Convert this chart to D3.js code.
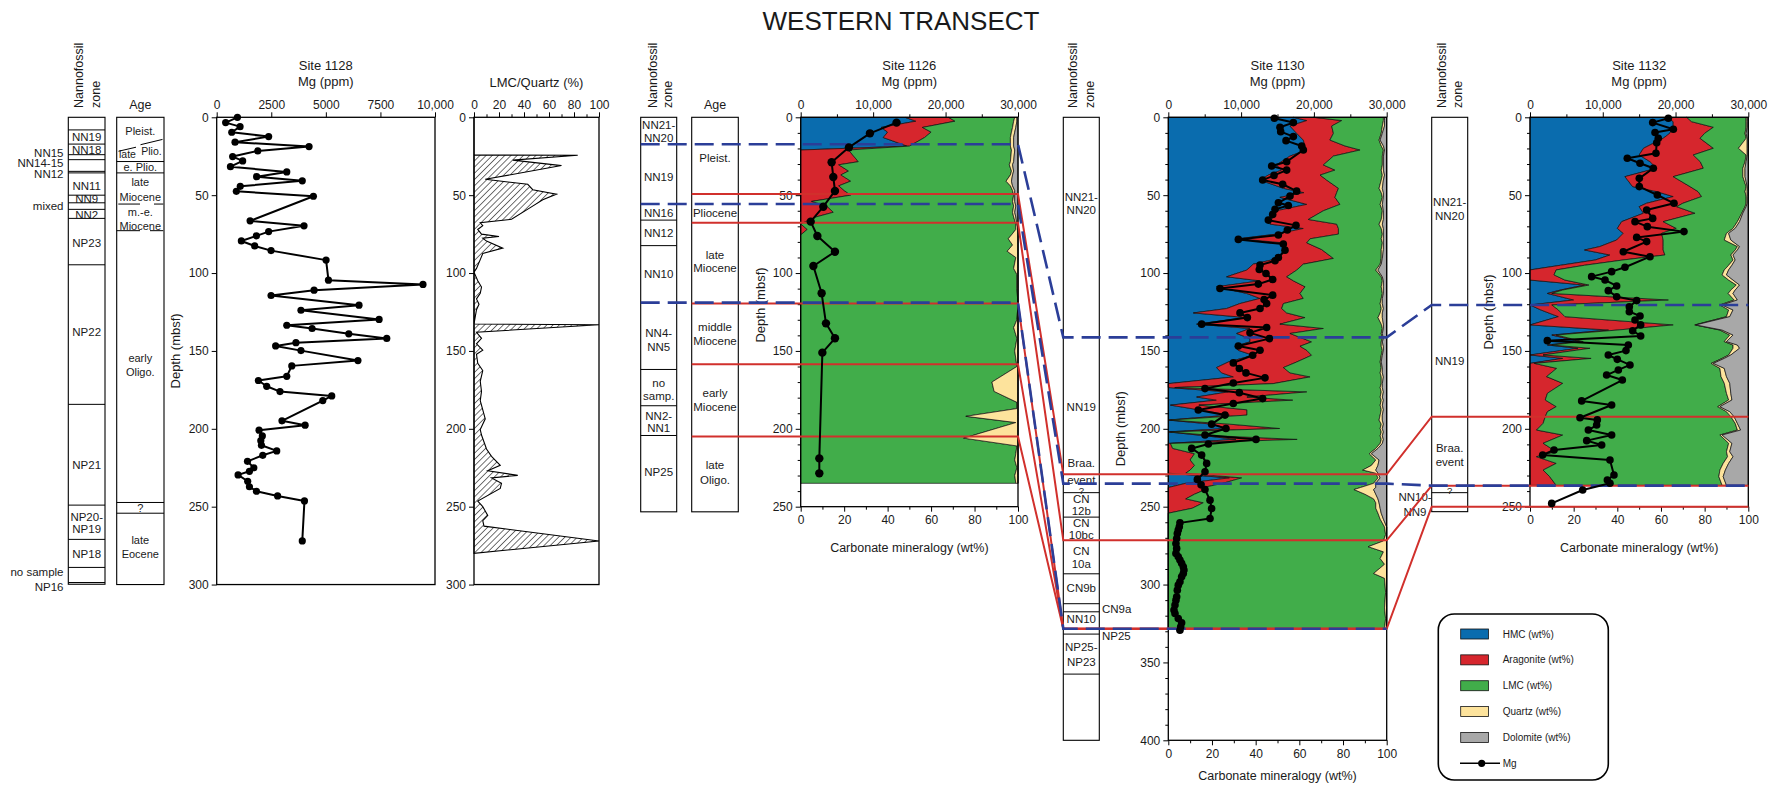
<!DOCTYPE html>
<html>
<head>
<meta charset="utf-8">
<script src="https://cdn.jsdelivr.net/npm/d3@7"></script>
<style>
  body { margin: 0; background: #fff; }
  svg { display: block; }
</style>
</head>
<body>
<svg id="chart" width="1777" height="785"></svg>
<script>
// ---------------- Site 1128: Mg (ppm) ----------------
const mg1128Depth = [0,3.4,6,9.6,12.4,16,18.8,21.6,25.2,28, 31.7,35.1,38.1,40.8,44.3,47.5,50.7,66.5,69.7,73.4,
  76.1,79.4,82.6,85.6,91.7,104.6,107.3,111,114.4,120.6, 123.9,129.8,133.5,135.6,139,142,144.7,146.8,149.8,156.2,
  159.6,166.3,169,172.7,176.1,178.9,181.9,194.9,197.7,200.9, 204.6,207.6,210.6,214.2,217,220.9,225,227.3,229.6,233.7,
  237.2,240.1,243.1,246.3,272];
const mg1128 = [950,410,1070,690,2380,840,4230,1880,730,1190, 630,3210,1830,3920,1080,900,4430,1530,4000,2380,
  1820,1130,1740,2490,5010,5120,9450,4460,2490,6520, 3860,7440,3210,4370,6050,7790,3630,2700,3860,6470,
  3440,3210,1910,2290,2900,5270,4860,2990,4050,1940, 2090,2020,2050,2750,2110,1410,1700,1500,980,1420,
  1500,1820,2790,4020,3920];

// ---------------- Site 1128: LMC/Quartz (%) ----------------
const lqDepth = [0,24.2,24.4,27.5,31,39.8,43,46.5,49.3,53, 58,65.5,67.7,69.6,72,75,76.5,77.6,79.5,84,
  87.5,91.4,97,99.4,105,109,113,116.6,120,123.5, 132.7,133.2,138,141.9,145.4,149.5,152.2,158,162.6,169.5,
  176,182,193.6,200.5,204,213,217.7,223.4,226.9,229.9, 231.5,235,238.3,246.4,250,255.6,259,262.5,272,280];
const lqValue = [0,0,83,31,70,9,43,47,66,55, 45,30,5,7,3,6,20,7,10,23,
  7,5,2,0,3,6,5,2,4,2, 0,100,2,6,2,7,2,3,7,5,
  6,5,9,5,6,10,14,21,11,35, 14,22,21,3,7,11,7,8,100,0];

// ---------------- Site 1126: carbonate mineralogy (wt%) and Mg ----------------
const depth1126 = [0,2.5,6.5,9.5,13,18.5,21,28.5,30.5,34.5, 37,41,44,47,50,54,57,61,64,68.5,
  72,75.5,78,82,86,90,97,101,110,120, 130,135,142,150,160,170,176,183,187,192, 196,206,211,216,220,225,230,235];
const hmc1126 = [48,53,37,40,38,49,0,0,0,0, 0,0,0,0,0,0,0,0,0,0, 0,0,0,0,0,0,0,0,0,0, 0,0,0,0,0,0,0,0,0,0, 0,0,0,0,0,0,0,0];
const arag1126 = [20,18,19,20,19,1,22,26.5,17.5,22, 18.5,23,17.5,20,23,5,12,15,7,0, 3,0,0,0,0,0,0,0,0,0, 0,0,0,0,0,0,0,0,0,0, 0,0,0,0,0,0,0,0];
const lmc1126 = [30.5,27,41.5,37,39.5,46.5,75,70,78.5,75, 78,71.5,79,77.5,75,92.5,86,82.5,91,99,
  96,97,95.5,97.5,95,99,98,99.5,99.5,100, 99.5,98,99.5,98.5,99.5,88,89,99.5,99.5,76, 99,75,99.5,99,98.5,99.5,98.5,99];
const qtz1126 = [1,1.5,1.5,1.5,1.5,1.5,1.5,1.5,1.5,1, 1,2.5,1,1,0.5,1,1,1,1,0.5,
  1,3,4.5,2.5,5,1,2,0.5,0.5,0, 0.5,2,0.5,1.5,0.5,12,11,0.5,0.5,24, 1,25,0.5,1,1.5,0.5,1.5,1];
const dol1126 = [0.5,0.5,1,1.5,2,2,1.5,2,2.5,2, 2.5,3,2.5,1.5,1.5,1.5,1,1.5,1,0.5,
  0,0,0,0,0,0,0,0,0,0, 0,0,0,0,0,0,0,0,0,0, 0,0,0,0,0,0,0,0];
const mg1126Depth = [3.4,10.3,19.3,28.9,38.3,47.3,57.4,67,76.2,86.3,95.5,113,132.3,141.9,151.1,219,228.6];
const mg1126 = [13230,9560,6660,4270,4500,4730,3120,1380,2300,4730,1750,2890,3490,4730,2990,2570,2570];

// ---------------- Site 1130 ----------------
const depth1130 = [0,2.1,5.6,10.3,14.6,18.4,21,24.9,30.6,33.9, 37.1,40.3,45.6,48.4,51.4,55.9,60,65.6,68.6,71.4,
  75,78,80.6,84.9,90.6,94.3,98.1,102.4,105,108.8, 113.1,116.3,119.6,122.8,125.6,128.6,132.8,135.6,138.8,142.1,
  144.2,147,149.6,152.8,157.1,160.7,164.1,166.7,171,173.5, 176.3,179.6,181.6,184.8,187.8,191.2,194.4,197,199.8,202,
  204.5,206.8,209.4,212.6,216,220,223.5,226.5,228.5,231.5, 235,237.7,239,242,245,247.5,251,254.2,258,263,
  268,272,275.7,279,283.3,287,292.9,296,305,315, 322,328.4];
const hmc1130 = [57.3,63.4,55.7,58.8,61.8,62.6,63.4,55.7,49.6,51.9, 45.8,42,52.7,62.1,51.1,63.4,49.6,47.3,46.6,61.8,
  49.6,32,52.7,54.2,50.4,38.9,35.9,26.7,42,22.1, 35.9,42,32.8,26.7,11.5,35.9,13,37.4,31.3,37.4,
  37.4,30.5,32,38.9,27.5,22.1,24.4,29.8,0,0, 27.5,13,22,1,14,28,0,20,27,0,
  17,31,0,0,0,0,0,0,0,28, 8,0,0,0,0,0,0,0,0,0, 0,0,0,0,0,0,0,0,0,0, 0,0];
const arag1130 = [9.1,16,19.1,16.8,12.2,18.3,24.4,19.9,21.4,24.4, 23.7,30.5,25.2,15,25.2,15.2,21.4,16.8,30.5,16.1,
  28.3,32.9,10.7,16,25.2,22.9,22.9,27.5,15.3,40.5, 24.4,19.8,19.9,25.2,42.7,26.7,38.1,33.6,24.4,24.4,
  28.2,29.8,31.4,26.7,31.3,30.6,31.3,35.1,48,3, 35.9,23,35,13,22,8,1,8,24,1,
  5,28,1,2,12,10,12,10,8,5.6, 17,16,17,12,8,16,11,0,0,0, 0,0,0,0,0,0,0,0,0,0, 0,0];
const lmc1130 = [32.1,19.1,23.2,21.9,22.5,16.6,10.7,22.4,27,21.2, 28.5,25,18.6,20.4,21.7,18.4,27,33.4,19.4,19.6,
  20.1,32.6,34.6,27.3,21.9,35.2,36.2,43.3,40.7,34.9, 37.7,35.7,44.3,45.6,42.8,33.4,46.4,27,41.8,36.2,
  31.9,37.2,34.6,31.9,38.2,44.8,41.3,32.6,49.5,94, 34.1,61,40.5,83,61.5,61,95.5,69.5,46,96.5,
  75,38.5,96,93,80,85,81,79,87,62.4, 69,72,68,78,86,79,84,96,97,99,
  99.5,98.5,91.5,98.5,97,99,94,99,99.5,99, 99.5,99];
const qtz1130 = [0.5,0.5,1,0.5,0.5,1,0.5,0.5,0.5,1, 1,1,1.5,1,0.5,1,0.5,1,1.5,1,
  0.5,1,0.5,1,0.5,0.5,1,0.5,0.5,1, 0.5,0.5,1,1,1,2,1,0.5,0.5,0.5,
  0.5,1,0.5,0.5,0.5,0.5,1,1,0.5,1, 1,1,1,1,1,1,1.5,1,1,1,
  1,1,1,1,1,1.5,3,6,1,1, 1,7,9,5,2,1.5,2,1.5,1.5,1,
  0.5,1.5,8.5,1.5,3,1,6,1,0.5,1, 0.5,1];
const dol1130 = [1,1,1,2,3,1.5,1,1.5,1.5,1.5, 1,1.5,2,1.5,1.5,2,1.5,1.5,2,1.5,
  1.5,1.5,1.5,1.5,2,2.5,4,2,1.5,1.5, 1.5,2,2,1.5,2,2,1.5,1.5,2,1.5,
  2,1.5,1.5,2,2.5,2,2,1.5,2,2, 1.5,2,1.5,2,1.5,2,2,1.5,2,1.5,
  2,1.5,2,4,7,3.5,4,5,4,3, 5,5,6,5,4,3.5,3,2.5,1.5,0,
  0,0,0,0,0,0,0,0,0,0, 0,0];
const mg1130Depth = [0.6,3.4,6.4,9.2,12.4,15,18.4,21,28.5,31.3, 33.9,37.3,40.3,43,47.4,50.6,54.9,56.6,59.1,62.4,
  66,69.4,72.4,75.6,78.4,81.4,85.3,90,92.1,94.9, 97.7,100.3,104.1,107.1,109.9,114.2,117,119.6,122.8,125.6,
  128.6,132.8,135,138.4,142.1,146.8,149.6,152.8,157.7,161.3, 164.1,167.3,170.6,174.2,176.8,180.6,183.8,187.9,191.2,197,
  199.8,204,206.8,209.8,212.6,216.9,222.2,227.6,232.5,236, 239,245.8,251.2,257.6,260.4,262.9,265,267.2,270.4,273.6,
  276.8,280,282.2,284.3,286.4,288.6,290.7,292.9,295,298.2, 300.4,303.6,307.9,310,313.2,316.4,318.6,321.8,324.6,327.1,
  329.3];
const mg1130 = [14570,17180,15340,15440,17180,16170,18320,18550,16260,14200, 16260,14520,12960,15710,17630,16720,15120,16490,14660,14340,
  13740,17540,16350,15120,9620,15800,16030,15120,14660,12600, 12500,13420,14340,12370,7100,14340,13150,13510,12600,9850,
  10860,4580,13510,11220,13880,9620,12600,11590,8930,9760, 10670,13280,8930,5040,9760,12960,8930,4120,7790,5950,
  7920,5040,12050,5500,3210,4580,5270,5040,3990,4500, 5040,5730,5950,5730,1600,1510,1370,1240,1150,1050,
  1150,1050,1370,1600,1830,2060,2150,2060,1830,1600, 1370,1240,1150,1050,920,780,920,1370,1830,1700,
  1600];

// ---------------- Site 1132 ----------------
const depth1132 = [0,2.8,6.4,10.3,13.5,19.9,24.2,28.5,32.7,38.1, 44.5,47.7,50.9,55.2,57.4,61.6,67,71.3,74.5,78.8,
  83,85.2,88.4,91.6,95,98,101.2,104.5,107.7,110.9, 113.1,117.3,120.5,123.7,128,133.3,136.6,139.8,144,146.2,
  148.3,152.6,154.8,158,161.2,166.5,170.8,177.2,181.5,185.8, 189,192.2,196.5,200.8,204,209.3,214.7,217.9,222.2,226.5,
  230.7,236.3];
const hmc1132 = [62.6,65.6,65.6,64,61,52,50,55,58,43.5, 47,58,65.6,53.4,50,52,42,40,42.7,39.7,
  32,25,36.6,30,14,0,0,0,25,14, 8,20,0,5,13,0,36,10,23,8,
  22,0,15,0,0,0,0,0,0,0, 0,0,0,0,0,0,0,0,0,0, 0,0];
const arag1132 = [9.2,8.4,18.4,16,16.9,32,24.8,23,21.4,22.1, 26.3,19,13,16.6,17.2,23.6,19,27,17.6,21.3,
  29,36,25.2,12.7,11,12,11,16,2,1, 2,43.4,10,8,3,65.6,4,2,1.4,2,
  5.5,6,13,2,12.2,7.6,15,8,7,12, 8,7,6,3,15,6,12,3,12,6, 9,12];
const lmc1132 = [27.2,25,15,18.5,21.1,11.5,24.2,20.5,18.1,31.9, 25.7,21.5,20.4,29,31.3,21.4,34,26,29.7,28,
  34,33,30.2,50.3,66,77,77,75,67.5,77, 80.8,30.1,77,78,74,9.9,47,79.5,64.6,83,
  65.5,85,60,81,74.8,79.9,74,82,84,74, 82,85,88,92,72,85,78,87.5,76.5,81, 77.5,76];
const qtz1132 = [0.5,0.5,0.5,0.5,0.5,4,0.5,0.5,1,1, 0.5,1,0.5,0.5,0.5,0.5,1,1,1,3,
  1,1,1,1,1.5,2,2,2,1.5,2, 2.2,1.5,1,2,1.5,0.5,1,1.5,1,2,
  3,1,1,1,2,2.5,2.5,2,1.5,1, 1.5,1.5,1,1.5,1,1.5,1.5,2.5,2.5,2.5, 2,2];
const dol1132 = [0.5,0.5,0.5,1,0.5,0.5,0.5,1,1.5,1.5, 0.5,0.5,0.5,0.5,1,2.5,4,6,9,8,
  4,5,7,6,7.5,9,10,7,4,6, 7,5,12,7,8.5,24,12,7,10,5,
  4,8,11,16,11,10,8.5,8,7.5,13, 8.5,6.5,5,3.5,12,7.5,8.5,7,9,10.5, 11.5,10];
const mg1132Depth = [0.6,3.4,7.7,9.8,13.5,16.3,23.1,26.3,29.5,32.7, 39.2,44.5,49.9,55.2,59.5,64.9,67,70.2,73.4,77.1,
  79.8,86.3,89.5,96.3,99.1,102.3,104.5,108.3,111.3,115.2, 117.7,121.6,124.8,127.6,130.1,133.3,137,140.4,143.4,146.2,
  149.8,152.6,155.4,159,162.2,165.5,168.7,182.1,184.7,192.9, 194.3,197.6,200.8,204,207.6,210.4,213.6,216.8,220,229.7,
  232.9,235,239.3,247.9];
const mg1132 = [19010,16860,19700,17180,17630,17410,17310,13370,15120,16950, 15020,15020,17500,19790,16030,16860,14430,16120,21160,14660,
  16030,12820,16490,13050,11220,8470,10310,11910,10760,11910, 14660,13650,13650,15120,14430,15210,14110,15210,2380,13510,
  13190,10760,12000,13740,12140,10530,12690,7100,11220,6870, 9250,9160,8020,11220,7790,9850,3300,1740,10990,11540,
  10630,10990,7240,2980];

// ---------------- Zonation (depths in mbsf) ----------------
const zone1128Bounds = [8.1,17.2,24,27.2,34.7,35.7,50,54.9,59.1,64.9,94.7,184.3,249,271,289,298.7];
const zone1128Labels = [["NN19",12.5],["NN18",21],["NN11",43.9],["NN9",52.5],["NN2",62.7],["NP23",80.5],
  ["NP22",137.9],["NP21",223.2],["NP20-",256.4],["NP19",264.3],["NP18",280.6]];
const zone1128Side = [["NN15",23.1],["NN14-15",29.5],["NN12",36.4],["mixed",57],["no sample",292.1],["NP16",301.4]];
const age1128Bounds = [35.7,247.3,254.2];
const age1128Labels = [["Pleist.",8.8],["e. Plio.",32.1],["late",41.3],["Miocene",51],["m.-e.",60.6],["Miocene",69.6],
  ["early",154.5],["Oligo.",163.3],["?",250.6],["late",271.6],["Eocene",280.6]];

const zone1126Bounds = [66,82.4,161.9,185.2,204.3];
const zone1126Labels = [["NN21-",4.9],["NN20",13.5],["NN19",38.1],["NN16",61.3],["NN12",74.1],["NN10",100.6],
  ["NN4-",138.7],["NN5",147.3],["no",170.4],["samp.",178.9],["NN2-",191.8],["NN1",199.7],["NP25",227.5]];
const age1126Labels = [["Pleist.",26.3],["Pliocene",61.3],["late",88.4],["Miocene",97],["middle",134.8],["Miocene",143.4],
  ["early",176.8],["Miocene",185.8],["late",223.2],["Oligo.",232.8]];

const zone1130Bounds = [241,256.7,293.1,312.3,317.5,331.8,357.5];
const zone1130Labels = [["NN21-",51.2],["NN20",59.8],["NN19",186],["Braa.",222],["event",232.7],
  ["CN",245.1],["12b",252.8],["CN",260.8],["10bc",267.9],["CN",278.5],["10a",287.1],["CN9b",302.2],
  ["NN10",322.4],["NP25-",340.1],["NP23",349.5]];
const zone1130Side = [["CN9a",315.7],["NP25",333]];

const zone1132Bounds = [241];
const zone1132Labels = [["NN21-",54.6],["NN20",63.2],["NN19",156.3],["Braa.",212.5],["event",221.5]];
const zone1132Side = [["NN10-",244],["NN9",253.2]];

// correlation ties: depth at 1126 -> 1130 -> 1132
const tieRed = [[49.3,229.2,192.2],[67.7,271.6,236.5],[119.5,328.4,250],[158.5,328.4,null],[205,328.4,null]];
const tieBlue = [[17.3,141.3,120.5],[55.7,235.2,236.5],[119,328.4,null]];

const mineralNames = ["HMC (wt%)","Aragonite (wt%)","LMC (wt%)","Quartz (wt%)","Dolomite (wt%)"];

// ---------------- drawing ----------------
const FONT = "'Liberation Sans', Arial, Helvetica, sans-serif";
const svg = d3.select("#chart").attr("font-family", FONT);
const yD = d3.scaleLinear().domain([0, 400]).range([117.3, 740.3]);
const keys = ["hmc","arag","lmc","qtz","dol"];
const fillOf = {hmc:"#0a6cae", arag:"#d6262d", lmc:"#41ad4a", qtz:"#fde39c", dol:"#a8a8a8"};
const RED = "#d1302c", BLUE = "#2b3e98";

const P = {
  s1128: {x0:216.7, x1:435, dMax:300},
  lq:    {x0:474,   x1:599, dMax:300},
  s1126: {x0:800.7, x1:1018, dMax:250},
  s1130: {x0:1168.3,x1:1386.7, dMax:400},
  s1132: {x0:1530,  x1:1748.3, dMax:250}
};
const COL = {
  nn1128:[68.3,105], age1128:[116.7,164], nn1126:[640.7,676.7], age1126:[691.7,738.3],
  nn1130:[1063.3,1099.3], nn1132:[1431.7,1467.7]
};

function text(x, y, s, size, anchor) {
  return svg.append("text").attr("x", x).attr("y", y).text(s)
    .attr("font-size", size).attr("text-anchor", anchor || "middle").attr("fill", "#1a1a1a");
}
function vtext(x, y, s, size, anchor) {
  return svg.append("text").attr("transform", `translate(${x},${y}) rotate(-90)`).text(s)
    .attr("font-size", size).attr("text-anchor", anchor || "middle").attr("fill", "#1a1a1a");
}
function styleAxis(g) {
  g.attr("font-family", FONT).attr("font-size", 12);
  g.select(".domain").remove();
  g.selectAll("text").attr("fill", "#1a1a1a");
  g.selectAll("line").attr("stroke", "#000");
}

// title
text(901, 30, "WESTERN TRANSECT", 26);

// ---- lithostratigraphic columns ----
function column(c, dBottom) {
  svg.append("rect").attr("x", c[0]).attr("y", yD(0)).attr("width", c[1]-c[0])
    .attr("height", yD(dBottom)-yD(0)).attr("fill", "#fff").attr("stroke", "#000").attr("stroke-width", 1.1);
}
function colLines(c, bounds) {
  svg.append("g").selectAll("line").data(bounds).join("line")
    .attr("x1", c[0]).attr("x2", c[1]).attr("y1", d => yD(d)).attr("y2", d => yD(d))
    .attr("stroke", "#000").attr("stroke-width", 1);
}
function colLabels(xc, labels, anchor, size) {
  labels.forEach(([s, d]) => text(xc, yD(d) + 4, s, size || 11.5, anchor));
}
function colHeader(xa, xb) {
  vtext(xa, 108, "Nannofossil", 12.5, "start");
  vtext(xb, 108, "zone", 12.5, "start");
}

// Site 1128 columns
column(COL.nn1128, 299.8);
colLines(COL.nn1128, zone1128Bounds);
colLabels(86.7, zone1128Labels);
colLabels(63.5, zone1128Side, "end");
column(COL.age1128, 300);
colLines(COL.age1128, age1128Bounds);
colLabels(140.3, age1128Labels, "middle", 11);
text(127.5, yD(23.6) + 4, "late", 10.5);
text(151.5, yD(21.6) + 4, "Plio.", 10.5);
// broken boundaries drawn around the age names
const ageSeg = [
  [118.5, yD(21.8), 136, yD(19.2)], [140.5, yD(17.6), 162.5, yD(14.2)],
  [116.7, yD(28.4), 164, yD(28.4)],
  [118.3, yD(55.7), 140, yD(55.7)], [154, yD(55.7), 163.3, yD(55.7)],
  [116.7, yD(72.8), 140, yD(72.8)], [150, yD(72.8), 163.3, yD(72.8)]
];
svg.append("g").selectAll("line").data(ageSeg).join("line")
  .attr("x1", d => d[0]).attr("y1", d => d[1]).attr("x2", d => d[2]).attr("y2", d => d[3])
  .attr("stroke", "#000").attr("stroke-width", 1);
colHeader(83, 99.5);
text(140.3, 108.5, "Age", 12.5);

// Site 1126 columns
column(COL.nn1126, 253.3);
colLines(COL.nn1126, zone1126Bounds);
colLabels(658.7, zone1126Labels);
column(COL.age1126, 253.3);
colLabels(715, age1126Labels);
colHeader(657, 672);
text(715, 109, "Age", 12.5);

// Site 1130 column
column(COL.nn1130, 400);
colLines(COL.nn1130, zone1130Bounds);
colLabels(1081.3, zone1130Labels);
text(1081.3, yD(239.6) + 3.5, "?", 9.5);
colLabels(1102, zone1130Side, "start");
colHeader(1076.5, 1093.5);

// Site 1132 column
column(COL.nn1132, 253.2);
colLines(COL.nn1132, zone1132Bounds);
colLabels(1449.7, zone1132Labels);
text(1449.7, yD(239.4) + 3.5, "?", 9.5);
colLabels(1415, zone1132Side);
colHeader(1446, 1462);

// ---- plot frames and axes ----
function frame(p) {
  svg.append("rect").attr("x", p.x0).attr("y", yD(0)).attr("width", p.x1-p.x0)
    .attr("height", yD(p.dMax)-yD(0)).attr("fill", "none").attr("stroke", "#000").attr("stroke-width", 1.3);
}
function depthAxis(p, minor) {
  const ys = d3.scaleLinear().domain([0, p.dMax]).range([yD(0), yD(p.dMax)]);
  const major = d3.range(0, p.dMax + 1, 50);
  const g = svg.append("g").attr("transform", `translate(${p.x0},0)`);
  g.call(d3.axisLeft(ys).tickValues(major).tickSize(5).tickPadding(3).tickSizeOuter(0));
  styleAxis(g);
  if (minor) {
    const gm = svg.append("g").attr("transform", `translate(${p.x0},0)`);
    gm.call(d3.axisLeft(ys).tickValues(d3.range(0, p.dMax + 1, 10).filter(v => v % 50)).tickSize(3).tickFormat("").tickSizeOuter(0));
    styleAxis(gm);
  }
}
function topAxis(p, max, major, minor, fmt) {
  const xs = d3.scaleLinear().domain([0, max]).range([p.x0, p.x1]);
  const g = svg.append("g").attr("transform", `translate(0,${yD(0)})`);
  g.call(d3.axisTop(xs).tickValues(major).tickSize(5).tickPadding(3).tickFormat(fmt).tickSizeOuter(0));
  styleAxis(g);
  if (minor) {
    const gm = svg.append("g").attr("transform", `translate(0,${yD(0)})`);
    gm.call(d3.axisTop(xs).tickValues(minor).tickSize(3).tickFormat("").tickSizeOuter(0));
    styleAxis(gm);
  }
}
function bottomAxis(p, titleGap) {
  const xs = d3.scaleLinear().domain([0, 100]).range([p.x0, p.x1]);
  const g = svg.append("g").attr("transform", `translate(0,${yD(p.dMax)})`);
  g.call(d3.axisBottom(xs).tickValues(d3.range(0, 101, 20)).tickSize(5).tickPadding(4).tickSizeOuter(0));
  styleAxis(g);
  const gm = svg.append("g").attr("transform", `translate(0,${yD(p.dMax)})`);
  gm.call(d3.axisBottom(xs).tickValues(d3.range(10, 100, 20)).tickSize(3).tickFormat("").tickSizeOuter(0));
  styleAxis(gm);
  text((p.x0 + p.x1) / 2, yD(p.dMax) + titleGap, "Carbonate mineralogy (wt%)", 12.5);
}
const fmtMg = d => d >= 10000 ? d3.format(",")(d) : String(d);
const mgMajor = [0, 10000, 20000, 30000], mgMinor = [5000, 15000, 25000];

// ---- stacked mineralogy ----
function stackPlot(p, depths, hmc, arag, lmc, qtz, dol) {
  const rows = depths.map((d, i) => ({depth: d, hmc: hmc[i], arag: arag[i], lmc: lmc[i], qtz: qtz[i], dol: dol[i]}));
  const xs = d3.scaleLinear().domain([0, 100]).range([p.x0, p.x1]);
  const series = d3.stack().keys(keys)(rows);
  const area = d3.area().y(d => yD(d.data.depth)).x0(d => xs(d[0])).x1(d => xs(d[1]));
  svg.append("g").selectAll("path").data(series).join("path")
    .attr("d", area).attr("fill", s => fillOf[s.key])
    .attr("stroke", "#111").attr("stroke-width", 0.7).attr("stroke-linejoin", "round");
}
function mgLine(p, max, depths, vals, r) {
  const xs = d3.scaleLinear().domain([0, max]).range([p.x0, p.x1]);
  const pts = depths.map((d, i) => [xs(vals[i]), yD(d)]);
  const g = svg.append("g");
  g.append("path").attr("d", d3.line()(pts)).attr("fill", "none").attr("stroke", "#000").attr("stroke-width", 2).attr("stroke-linejoin", "round");
  g.selectAll("circle").data(pts).join("circle").attr("cx", d => d[0]).attr("cy", d => d[1]).attr("r", r).attr("fill", "#000");
}

// Site 1128 Mg panel
frame(P.s1128);
depthAxis(P.s1128, false);
topAxis(P.s1128, 10000, [0, 2500, 5000, 7500, 10000], null, fmtMg);
text(325.8, 69.5, "Site 1128", 13);
text(325.8, 86, "Mg (ppm)", 13);
vtext(179.5, yD(150), "Depth (mbsf)", 13);

// LMC/Quartz panel
const defs = svg.append("defs");
const hatch = defs.append("pattern").attr("id", "hatch").attr("patternUnits", "userSpaceOnUse")
  .attr("width", 4.4).attr("height", 4.4).attr("patternTransform", "rotate(45)");
hatch.append("rect").attr("width", 4.4).attr("height", 4.4).attr("fill", "#fff");
hatch.append("line").attr("x1", 0).attr("y1", 0).attr("x2", 0).attr("y2", 4.4).attr("stroke", "#000").attr("stroke-width", 1.1);
{
  const xs = d3.scaleLinear().domain([0, 100]).range([P.lq.x0, P.lq.x1]);
  const area = d3.area().y(d => yD(d[0])).x0(xs(0)).x1(d => xs(d[1]));
  svg.append("path").datum(lqDepth.map((d, i) => [d, lqValue[i]]))
    .attr("d", area).attr("fill", "url(#hatch)").attr("stroke", "#000").attr("stroke-width", 1.1);
}
frame(P.lq);
depthAxis(P.lq, false);
topAxis(P.lq, 100, d3.range(0, 101, 20), d3.range(10, 100, 20), d => d);
text((P.lq.x0 + P.lq.x1) / 2, 87, "LMC/Quartz (%)", 13);
mgLine(P.s1128, 10000, mg1128Depth, mg1128, 3.6);

// Site 1126
stackPlot(P.s1126, depth1126, hmc1126, arag1126, lmc1126, qtz1126, dol1126);
frame(P.s1126);
depthAxis(P.s1126, true);
topAxis(P.s1126, 30000, mgMajor, mgMinor, fmtMg);
bottomAxis(P.s1126, 45);
text((P.s1126.x0 + P.s1126.x1) / 2, 69.5, "Site 1126", 13);
text((P.s1126.x0 + P.s1126.x1) / 2, 86, "Mg (ppm)", 13);
vtext(764.5, 305, "Depth (mbsf)", 13);

// Site 1130
stackPlot(P.s1130, depth1130, hmc1130, arag1130, lmc1130, qtz1130, dol1130);
frame(P.s1130);
depthAxis(P.s1130, true);
topAxis(P.s1130, 30000, mgMajor, mgMinor, fmtMg);
bottomAxis(P.s1130, 39.5);
text((P.s1130.x0 + P.s1130.x1) / 2, 69.5, "Site 1130", 13);
text((P.s1130.x0 + P.s1130.x1) / 2, 86, "Mg (ppm)", 13);
vtext(1124.5, yD(200), "Depth (mbsf)", 13);

// Site 1132
stackPlot(P.s1132, depth1132, hmc1132, arag1132, lmc1132, qtz1132, dol1132);
frame(P.s1132);
depthAxis(P.s1132, true);
topAxis(P.s1132, 30000, mgMajor, mgMinor, fmtMg);
bottomAxis(P.s1132, 45);
text((P.s1132.x0 + P.s1132.x1) / 2, 69.5, "Site 1132", 13);
text((P.s1132.x0 + P.s1132.x1) / 2, 86, "Mg (ppm)", 13);
vtext(1492.5, yD(125), "Depth (mbsf)", 13);

// ---- correlation ties between sites ----
function tiePath(startX, chain) {
  const pts = [[startX, yD(chain[0])], [P.s1126.x1, yD(chain[0])],
               [COL.nn1130[0], yD(chain[1])], [P.s1130.x1, yD(chain[1])]];
  if (chain[2] != null) pts.push([COL.nn1132[0], yD(chain[2])], [P.s1132.x1, yD(chain[2])]);
  return d3.line()(pts);
}
svg.append("g").selectAll("path").data(tieRed).join("path")
  .attr("d", c => tiePath(COL.age1126[0], c)).attr("fill", "none")
  .attr("stroke", RED).attr("stroke-width", 2);
svg.append("g").selectAll("path").data(tieBlue).join("path")
  .attr("d", c => tiePath(COL.nn1126[0], c)).attr("fill", "none")
  .attr("stroke", BLUE).attr("stroke-width", 2.6).attr("stroke-dasharray", "19,8");

// ---- Mg profiles ----
mgLine(P.s1126, 30000, mg1126Depth, mg1126, 4.2);
mgLine(P.s1130, 30000, mg1130Depth, mg1130, 3.8);
mgLine(P.s1132, 30000, mg1132Depth, mg1132, 3.8);

// ---- legend ----
const lg = svg.append("g");
lg.append("rect").attr("x", 1438.3).attr("y", 614).attr("width", 170).attr("height", 166).attr("rx", 16)
  .attr("fill", "#fff").attr("stroke", "#000").attr("stroke-width", 1.6);
const legY = d3.scalePoint().domain(mineralNames.concat(["Mg"])).range([634, 763.3]);
mineralNames.forEach((name, i) => {
  const y = legY(name);
  lg.append("rect").attr("x", 1460.7).attr("y", y - 5).attr("width", 27.7).attr("height", 10)
    .attr("fill", fillOf[keys[i]]).attr("stroke", "#111").attr("stroke-width", 0.8);
  lg.append("text").attr("x", 1502.7).attr("y", y + 3.6).text(name).attr("font-size", 10).attr("fill", "#1a1a1a");
});
{
  const y = legY("Mg");
  lg.append("line").attr("x1", 1460).attr("x2", 1500).attr("y1", y).attr("y2", y).attr("stroke", "#000").attr("stroke-width", 1.6);
  lg.append("circle").attr("cx", 1481.7).attr("cy", y).attr("r", 3.6).attr("fill", "#000");
  lg.append("text").attr("x", 1502.7).attr("y", y + 3.6).text("Mg").attr("font-size", 10).attr("fill", "#1a1a1a");
}
</script>
</body>
</html>
